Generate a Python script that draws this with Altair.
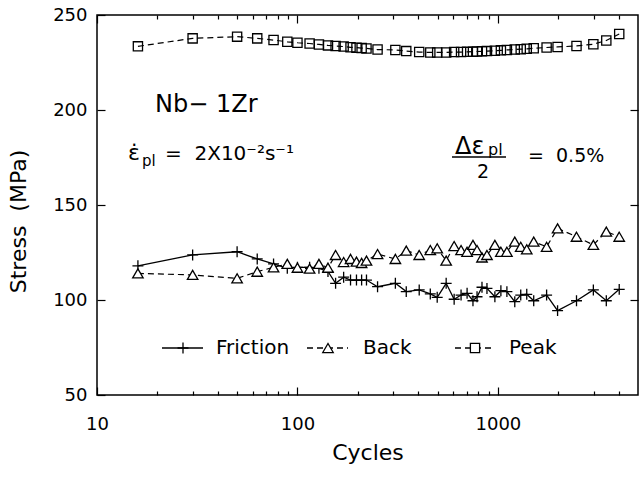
import altair as alt
import pandas as pd

FONT = "DejaVu Sans"

cycles = [16, 30, 50, 63, 76, 89, 100, 115, 128, 142, 155, 170, 184, 197, 209, 221,
          251, 308, 349, 405, 460, 498, 552, 605, 655, 702, 751, 787, 833, 882, 966,
          1035, 1109, 1214, 1300, 1393, 1509, 1750, 1985, 2467, 2994, 3474, 4030]
friction = [118, 123.7, 125.4, 121.6, 119, 116.7, 117.2, 117.2, 116.7, 115,
            108.8, 112, 110.5, 110.5, 110.5, 110.5, 107, 108.8, 104.4, 105.3,
            103.2, 101.4, 108.8, 100.4, 102.6, 103.5, 99.6, 101.7, 106.7, 106.1,
            101.7, 104.9, 104.4, 99.1, 102.6, 103, 99.6, 102.6, 94.4, 99.6,
            105.3, 99.6, 105.6]
back = [114, 113.2, 111.4, 114.9, 117.2, 119, 117, 116.5, 119, 117,
        123.7, 120, 121.6, 120.2, 119.5, 120.7, 124.2, 121.6, 126, 123.7,
        126.3, 127.2, 120.7, 128.4, 126.3, 125.4, 129, 126.3, 122.4, 123.7,
        129, 125.4, 125.4, 130.7, 128, 126.7, 130.7, 128, 137.7, 133.3,
        129, 136, 133.3]
peak = [233.5, 237.7, 238.6, 237.7, 236.8, 235.9, 235.4, 235, 234.5, 234,
        233.7, 233.4, 233, 232.8, 232.6, 232.4, 231.8, 231.6, 231, 230.5,
        230.3, 230.3, 230.3, 230.5, 230.5, 230.6, 230.7, 230.8, 230.9, 231,
        231.2, 231.4, 231.6, 231.8, 232, 232.2, 232.5, 232.9, 233.2, 233.7,
        234.6, 236.6, 240]

x_major = [10, 100, 1000]
x_minor = [20, 30, 40, 50, 60, 70, 80, 90, 200, 300, 400, 500, 600, 700, 800, 900,
           2000, 3000, 4000]
y_major = [50, 100, 150, 200, 250]

df_f = pd.DataFrame({"Cycles": cycles, "Stress": friction})
df_b = pd.DataFrame({"Cycles": cycles, "Stress": back})
df_p = pd.DataFrame({"Cycles": cycles, "Stress": peak})
one = pd.DataFrame({"k": [0]})

xs = alt.Scale(type="log", domain=[10, 5000], nice=False)
ys = alt.Scale(domain=[50, 250], nice=False, zero=False)

common = dict(domain=False, grid=False, tickColor="black", tickWidth=1.2,
              labelColor="black", labelFont=FONT, labelFontSize=18)

ax_bottom = alt.Axis(orient="bottom", values=x_major, format="d", offset=-8, tickSize=8,
                     labelPadding=20, labelFlush=False, title="Cycles",
                     titleFont=FONT, titleFontSize=22, titleFontWeight="normal",
                     titleColor="black", titleX=270.5, titleY=65, titleAlign="center",
                     titleBaseline="middle", titleAngle=0, **common)
ax_bottom_minor = alt.Axis(orient="bottom", values=x_minor, offset=-4, tickSize=4,
                           labels=False, title=None, **common)
ax_top = alt.Axis(orient="top", values=x_major, offset=-8, tickSize=8,
                  labels=False, title=None, **common)
ax_top_minor = alt.Axis(orient="top", values=x_minor, offset=-4, tickSize=4,
                        labels=False, title=None, **common)
ax_left = alt.Axis(orient="left", values=y_major, offset=-8, tickSize=8, labelPadding=10,
                   title="Stress\u00a0\u00a0(MPa)", titleFont=FONT, titleFontSize=22,
                   titleFontWeight="normal", titleColor="black", titleX=-87, titleY=206,
                   titleAngle=270, titleAlign="center", titleBaseline="middle", **common)
ax_right = alt.Axis(orient="right", values=[100, 150, 200], offset=-8, tickSize=8,
                    labels=False, title=None, **common)

PLUS = "M-1,0H1M0,-1V1"

friction_line = alt.Chart(df_f).mark_line(color="black", strokeWidth=1.3).encode(
    x=alt.X("Cycles:Q", scale=xs, axis=ax_bottom),
    y=alt.Y("Stress:Q", scale=ys, axis=ax_left))
back_line = alt.Chart(df_b).mark_line(color="black", strokeWidth=1.2, strokeDash=[6, 4]).encode(
    x=alt.X("Cycles:Q", scale=xs, axis=ax_top),
    y=alt.Y("Stress:Q", scale=ys, axis=ax_right))
peak_line = alt.Chart(df_p).mark_line(color="black", strokeWidth=1.2, strokeDash=[6, 4]).encode(
    x=alt.X("Cycles:Q", scale=xs, axis=ax_bottom_minor),
    y=alt.Y("Stress:Q", scale=ys, axis=None))
friction_pts = alt.Chart(df_f).mark_point(shape=PLUS, size=120, filled=False, stroke="black",
                                          strokeWidth=1.3, opacity=1).encode(
    x=alt.X("Cycles:Q", scale=xs, axis=ax_top_minor),
    y=alt.Y("Stress:Q", scale=ys, axis=None))
back_pts = alt.Chart(df_b).mark_point(shape="triangle-up", size=110, filled=True, fill="white",
                                      stroke="black", strokeWidth=1.3, opacity=1).encode(
    x=alt.X("Cycles:Q", scale=xs, axis=None),
    y=alt.Y("Stress:Q", scale=ys, axis=None))
peak_pts = alt.Chart(df_p).mark_point(shape="square", size=85, filled=False, stroke="black",
                                      strokeWidth=1.3, opacity=1).encode(
    x=alt.X("Cycles:Q", scale=xs, axis=None),
    y=alt.Y("Stress:Q", scale=ys, axis=None))


def txt(s, x, y, size, align="left", baseline="alphabetic"):
    return alt.Chart(one).mark_text(font=FONT, fontSize=size, align=align, baseline=baseline,
                                    color="black").encode(
        x=alt.value(x), y=alt.value(y), text=alt.value(s))


def rule(x1, x2, y, dash=None):
    kw = dict(color="black", strokeWidth=1.3)
    if dash:
        kw["strokeDash"] = dash
    return alt.Chart(one).mark_rule(**kw).encode(x=alt.value(x1), x2=alt.value(x2), y=alt.value(y))


LY = 333
legend = [
    rule(65, 106, LY),
    alt.Chart(one).mark_point(shape=PLUS, size=120, filled=False, stroke="black",
                              strokeWidth=1.3, opacity=1).encode(x=alt.value(86), y=alt.value(LY)),
    txt("Friction", 119, LY, 20, baseline="middle"),
    rule(210, 251, LY, [6, 4]),
    alt.Chart(one).mark_point(shape="triangle-up", size=110, filled=True, fill="white",
                              stroke="black", strokeWidth=1.3, opacity=1).encode(
        x=alt.value(231), y=alt.value(LY)),
    txt("Back", 266, LY, 20, baseline="middle"),
    rule(358, 398, LY, [6, 4]),
    alt.Chart(one).mark_point(shape="square", size=85, filled=True, fill="white",
                              stroke="black", strokeWidth=1.3, opacity=1).encode(
        x=alt.value(378), y=alt.value(LY)),
    txt("Peak", 412, LY, 20, baseline="middle"),
]

annotations = [
    txt("Nb\u2212 1Zr", 58, 97, 24),
    txt("\u03b5\u0307", 31, 145, 22),
    txt("pl", 45, 151, 15),
    txt("=\u00a0\u00a02X10\u207b\u00b2s\u207b\u00b9", 68, 145, 20),
    txt("\u0394\u03b5", 358, 139, 24),
    txt("pl", 391, 140, 16),
    rule(355, 409, 142),
    txt("2", 386, 163, 19, align="center"),
    txt("=\u00a0\u00a00.5%", 431, 147, 19),
]

chart = alt.layer(
    friction_line, back_line, peak_line, friction_pts, back_pts, peak_pts,
    *legend, *annotations
).properties(
    width=541, height=380,
    autosize=alt.AutoSizeParams(type="none"),
    padding={"left": 97, "top": 15, "right": 2, "bottom": 85},
    background="white",
).configure_view(stroke="black", strokeWidth=1.5)

chart.save("out.html", embed_options={"renderer": "svg", "actions": False})
